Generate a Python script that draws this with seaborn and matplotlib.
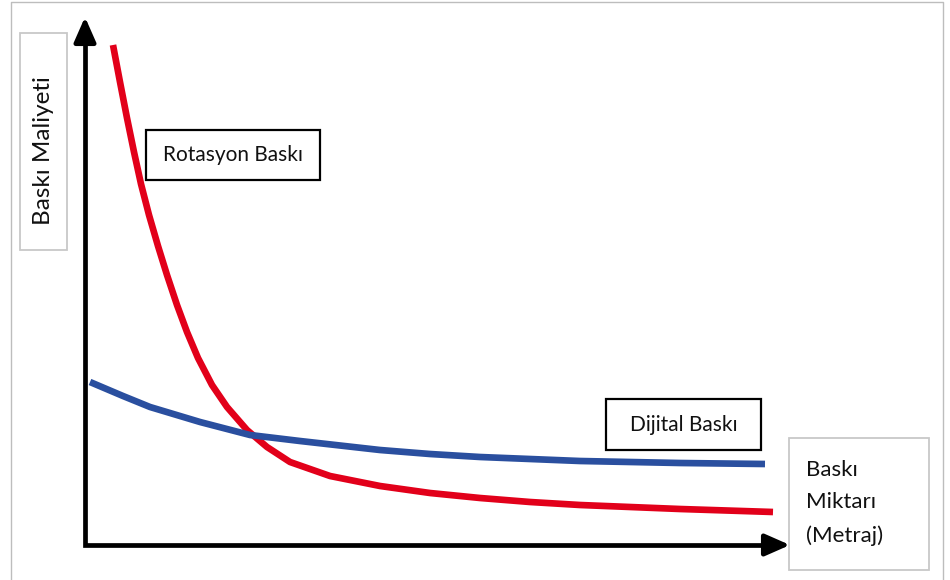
import matplotlib
matplotlib.use("Agg")
import matplotlib.pyplot as plt
import seaborn as sns
import pandas as pd
from matplotlib.patches import Rectangle

# ---- data ----
rotasyon_x = [28, 35, 42, 49, 56, 64, 73, 82, 92, 102, 113, 127, 142, 162, 182, 205, 245, 295, 345, 395, 445, 495, 595, 688]
rotasyon_y = [500, 463, 427, 393, 361, 330, 299, 270, 240, 213, 187, 160, 138, 115, 98, 83, 69, 59, 52, 47, 43, 40, 36, 33]
dijital_x = [5, 38, 65, 115, 165, 215, 295, 345, 395, 445, 495, 595, 680]
dijital_y = [163, 149, 138, 123, 110, 104, 95, 91, 88, 86, 84, 82, 81]

label_rot = "Rotasyon Baskı"
label_dij = "Dijital Baskı"
label_y = "Baskı Maliyeti"
label_x = "Baskı\nMiktarı\n(Metraj)"

sns.set_style("white")
plt.rcParams['font.family'] = ['Lato', 'DejaVu Sans']

fig = plt.figure(figsize=(9.5, 5.8), dpi=100)
ax = fig.add_axes([0, 0, 1, 1])
ax.set_xlim(-85, 865)
ax.set_ylim(-35, 545)
ax.axis("off")

df_r = pd.DataFrame({"x": rotasyon_x, "y": rotasyon_y})
df_d = pd.DataFrame({"x": dijital_x, "y": dijital_y})
sns.lineplot(data=df_r, x="x", y="y", ax=ax, color="#E2001A", lw=4.8, sort=False,
             solid_capstyle="butt", solid_joinstyle="round")
sns.lineplot(data=df_d, x="x", y="y", ax=ax, color="#2A4F9F", lw=4.8, sort=False,
             solid_capstyle="butt", solid_joinstyle="round")

# axes lines with arrows
ax.plot([0, 0, 690], [515, 0, 0], color="black", lw=3.4, solid_joinstyle="miter",
        solid_capstyle="butt")
arrow_kw = dict(arrowstyle="-|>,head_length=0.75,head_width=0.33", color="black",
                lw=3.4, shrinkA=0, shrinkB=0, mutation_scale=20)
ax.annotate("", xy=(0, 528), xytext=(0, 505), arrowprops=arrow_kw)
ax.annotate("", xy=(705, 0), xytext=(682, 0), arrowprops=arrow_kw)

# label boxes
ax.add_patch(Rectangle((61, 365), 174, 50, fill=False, ec="black", lw=1.6))
ax.text(148, 390, label_rot, ha="center", va="center", fontsize=15, color="#111111")

ax.add_patch(Rectangle((521, 95), 155, 51, fill=False, ec="black", lw=1.6))
ax.text(598.5, 120, label_dij, ha="center", va="center", fontsize=15, color="#111111")

ax.add_patch(Rectangle((-65, 295), 47, 217, fill=False, ec="#c8c8c8", lw=1.3))
ax.text(-41, 394, label_y, ha="center", va="center", rotation=90, fontsize=17.5,
        color="#111111")

ax.add_patch(Rectangle((704, -25), 140, 132, fill=False, ec="#c8c8c8", lw=1.3))
ax.text(721, 42, label_x, ha="left", va="center", fontsize=16, linespacing=1.75,
        color="#111111")

# outer frame
fx0, fx1, fy1 = 11 / 950, 943 / 950, 1 - 2 / 580
fig.add_artist(plt.Line2D([fx0, fx0, fx1, fx1], [0, fy1, fy1, 0], transform=fig.transFigure,
                          color="#bdbdbd", lw=1.0))

fig.savefig("out.png", dpi=100)
